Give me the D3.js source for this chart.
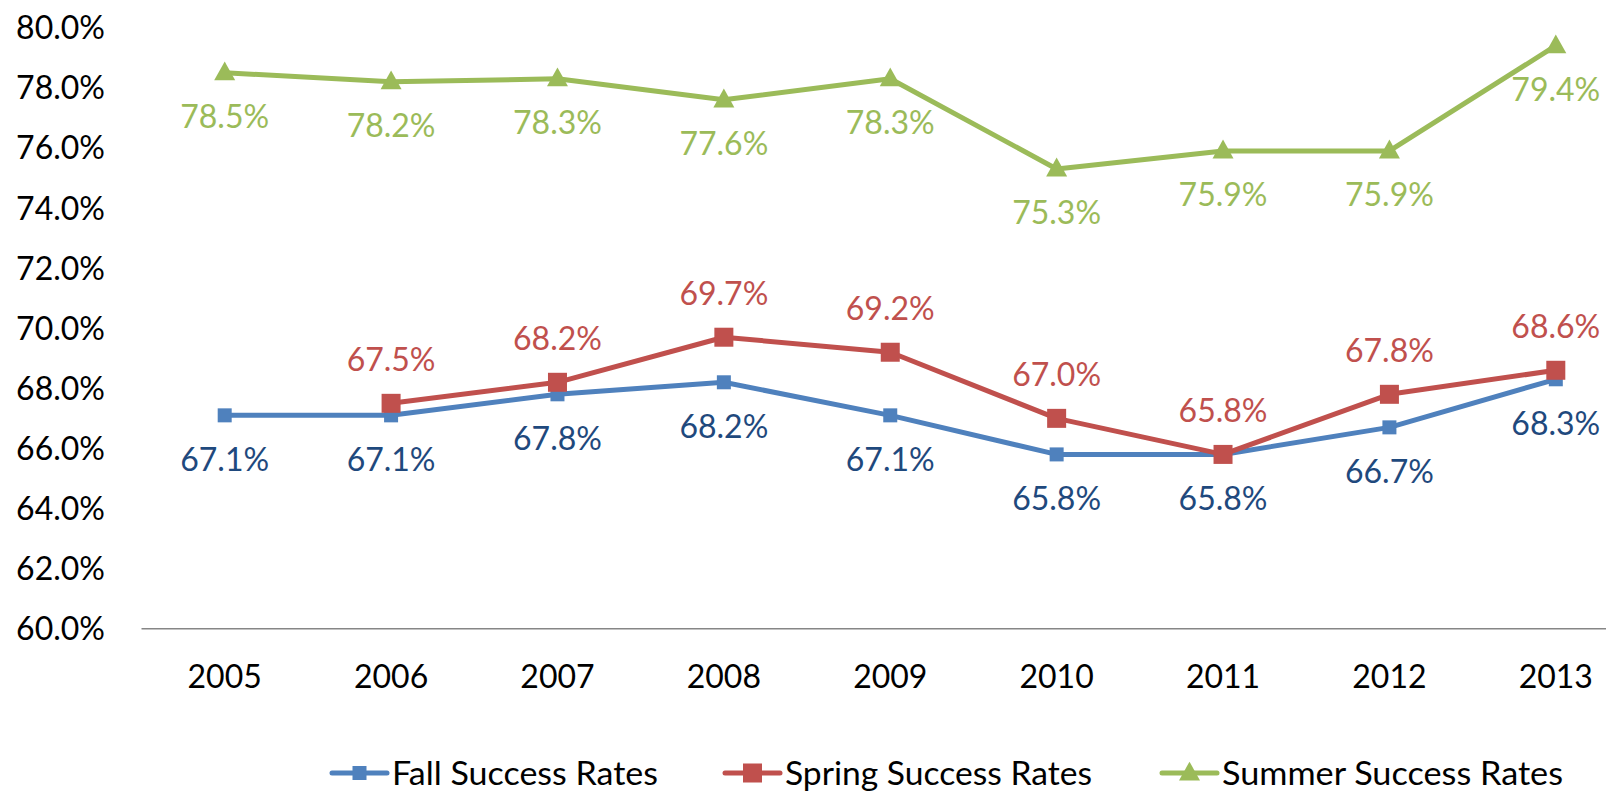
<!DOCTYPE html>
<html lang="en">
<head>
<meta charset="UTF-8">
<title>Success Rates</title>
<script src="https://d3js.org/d3.v7.min.js"></script>
<style>
  body, html { margin: 0; padding: 0; width: 100%; height: 100%; overflow: hidden; background: #fff; }
  svg { display: block; font-family: Lato, "Open Sans", sans-serif; }
</style>
</head>
<body>
<svg></svg>
<script>
  const years = ["2005", "2006", "2007", "2008", "2009", "2010", "2011", "2012", "2013"];
  const fall   = [67.1, 67.1, 67.8, 68.2, 67.1, 65.8, 65.8, 66.7, 68.3];
  const spring = [null, 67.5, 68.2, 69.7, 69.2, 67.0, 65.8, 67.8, 68.6];
  const summer = [78.5, 78.2, 78.3, 77.6, 78.3, 75.3, 75.9, 75.9, 79.4];
  const yTicks = [60, 62, 64, 66, 68, 70, 72, 74, 76, 78, 80];

  const width = 1606, height = 792;
  const svg = d3.select("svg").attr("width", width).attr("height", height);

  const x = d3.scaleBand().domain(years).range([141.5, 1639]);
  const y = d3.scaleLinear().domain([60, 80]).range([628.7, 27.7]);

  // y axis labels
  svg.append("g").selectAll("text").data(yTicks).join("text")
    .attr("x", 105).attr("y", d => y(d)).attr("dy", "0.36em")
    .attr("text-anchor", "end").attr("font-size", 32).attr("fill", "#000")
    .text(d => d.toFixed(1) + "%");

  // x axis
  svg.append("line").attr("x1", 141.5).attr("x2", width).attr("y1", y(60)).attr("y2", y(60))
    .attr("stroke", "#868686").attr("stroke-width", 1.5);
  svg.append("g").selectAll("text").data(years).join("text")
    .attr("x", d => x(d) + x.bandwidth() / 2).attr("y", 676).attr("dy", "0.36em")
    .attr("text-anchor", "middle").attr("font-size", 32).attr("fill", "#000")
    .text(d => d);

  const series = [
    {name: "Fall Success Rates", values: fall, color: "#4F81BD", label: "#1F497D", marker: "sq", size: 14, pos: 1},
    {name: "Spring Success Rates", values: spring, color: "#C0504D", label: "#C0504D", marker: "sq", size: 19, pos: -1},
    {name: "Summer Success Rates", values: summer, color: "#9BBB59", label: "#9BBB59", marker: "tri", size: 21, pos: 1}
  ];

  const cx = i => x(years[i]) + x.bandwidth() / 2;
  const line = d3.line().defined(d => d != null).x((d, i) => cx(i)).y(d => y(d));

  function marker(g, s, px, py) {
    if (s.marker === "sq") {
      g.append("rect").attr("x", px - s.size / 2).attr("y", py - s.size / 2)
        .attr("width", s.size).attr("height", s.size).attr("fill", s.color);
    } else {
      const h = s.size * 0.9;
      g.append("path")
        .attr("d", `M${px},${py - h * 0.6}L${px + s.size / 2},${py + h * 0.4}L${px - s.size / 2},${py + h * 0.4}Z`)
        .attr("fill", s.color);
    }
  }

  series.forEach(s => {
    const g = svg.append("g");
    g.append("path").datum(s.values).attr("d", line)
      .attr("fill", "none").attr("stroke", s.color).attr("stroke-width", 5).attr("stroke-linejoin", "round");
    s.values.forEach((v, i) => {
      if (v == null) return;
      marker(g, s, cx(i), y(v));
    });
  });

  // data labels on top
  series.forEach(s => {
    svg.append("g").selectAll("text").data(s.values.map((v, i) => ({v, i})).filter(d => d.v != null)).join("text")
      .attr("x", d => cx(d.i)).attr("y", d => y(d.v) + s.pos * 44).attr("dy", "0.36em")
      .attr("text-anchor", "middle").attr("font-size", 32).attr("fill", s.label)
      .text(d => d.v.toFixed(1) + "%");
  });

  // legend
  const legendX = [332, 725, 1162];
  const legendW = [266, 307, 341];
  const lg = svg.append("g");
  series.forEach((s, i) => {
    const lx = legendX[i], ly = 773;
    lg.append("line").attr("x1", lx).attr("x2", lx + 55).attr("y1", ly).attr("y2", ly)
      .attr("stroke", s.color).attr("stroke-width", 5).attr("stroke-linecap", "round");
    marker(lg, s, lx + 27.5, ly);
    lg.append("text").attr("x", lx + 60).attr("y", ly).attr("dy", "0.36em")
      .attr("font-size", 33).attr("fill", "#000")
      .attr("textLength", legendW[i]).attr("lengthAdjust", "spacingAndGlyphs")
      .text(s.name);
  });
</script>
</body>
</html>
